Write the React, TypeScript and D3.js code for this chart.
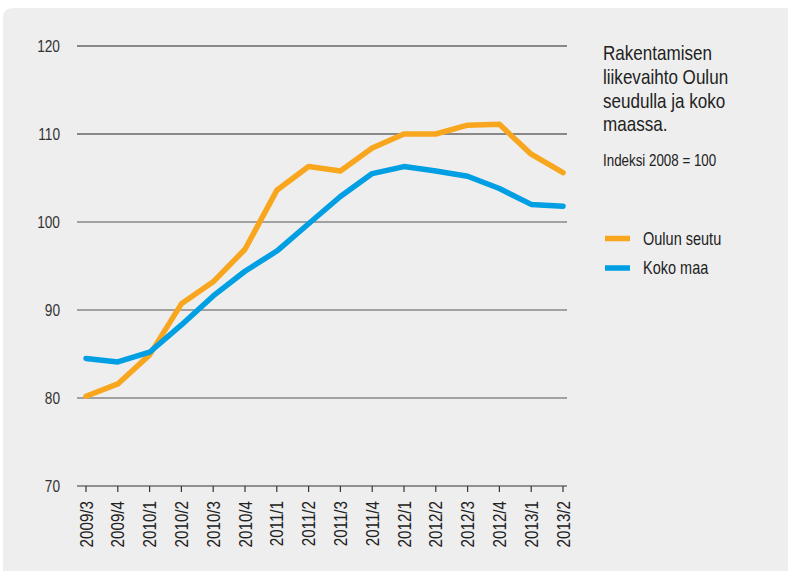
import React from "react";
import * as d3 from "d3";

const categories = ["2009/3","2009/4","2010/1","2010/2","2010/3","2010/4","2011/1","2011/2","2011/3","2011/4","2012/1","2012/2","2012/3","2012/4","2013/1","2013/2"];
const oulunSeutu = [80.2,81.6,84.9,90.7,93.2,96.9,103.6,106.3,105.8,108.4,110.0,110.0,111.0,111.1,107.7,105.6];
const kokoMaa = [84.5,84.1,85.2,88.3,91.6,94.4,96.7,99.8,102.9,105.5,106.3,105.8,105.2,103.8,102.0,101.8];
const yTicks = [70,80,90,100,110,120];
const titleLines = ["Rakentamisen","liikevaihto Oulun","seudulla ja koko","maassa."];
const subtitle = "Indeksi 2008 = 100";
const seriesNames = ["Oulun seutu","Koko maa"];
const colors = ["#f9a61f","#009fe3"];

const FONT = "'Liberation Sans', Arial, sans-serif";
const SX = 0.82;

function NText(props: { x: number; y: number; size: number; anchor?: string; rotate?: number; dy?: string; fill?: string; children: React.ReactNode }) {
  const { x, y, size, anchor = "start", rotate = 0, dy, fill = "#222", children } = props;
  return (
    <text
      transform={`translate(${x},${y}) rotate(${rotate}) scale(${SX},1)`}
      dy={dy}
      textAnchor={anchor}
      fontFamily={FONT}
      fontSize={size}
      fill={fill}
    >
      {children}
    </text>
  );
}

export default function App() {
  const W = 788, H = 571;
  const x = d3.scalePoint<string>().domain(categories).range([86, 563]);
  const y = d3.scaleLinear().domain([70, 120]).range([486, 46]);
  const line = d3.line<number>()
    .x((_, i) => x(categories[i]) as number)
    .y((d) => y(d));
  const series = [oulunSeutu, kokoMaa];
  return (
    <svg width={W} height={H} style={{ position: "absolute", left: 0, top: 0 }}>
      <rect x={0} y={0} width={W} height={H} fill="#ffffff" />
      <path d={`M3,${H} L3,18 Q3,8 13,8 L${W},8 L${W},${H} Z`} fill="#eeeeee" />
      {yTicks.map((t) => (
        <g key={t}>
          {t > 70 && (
            <line x1={77} x2={567} y1={y(t)} y2={y(t)} stroke={t >= 110 ? "#222" : "#555"} strokeWidth={1.2} />
          )}
          <NText x={60} y={y(t)} dy="0.36em" anchor="end" size={16.7} fill="#333">{t}</NText>
        </g>
      ))}
      <line x1={77} x2={567} y1={y(70)} y2={y(70)} stroke="#333" strokeWidth={1.2} />
      {categories.map((c) => (
        <g key={c} transform={`translate(${x(c)},0)`}>
          <line x1={0} x2={0} y1={486} y2={492} stroke="#333" strokeWidth={1.2} />
          <NText x={0} y={501} rotate={-90} dy="0.36em" anchor="end" size={18.5}>{c}</NText>
        </g>
      ))}
      {series.map((s, i) => (
        <path key={i} d={line(s) as string} fill="none" stroke={colors[i]} strokeWidth={5.5} strokeLinejoin="round" strokeLinecap="round" />
      ))}
      {titleLines.map((l, i) => (
        <NText key={l} x={603} y={60 + i * 23.8} size={20.8}>{l}</NText>
      ))}
      <NText x={603} y={166} size={16.3}>{subtitle}</NText>
      {seriesNames.map((n, i) => (
        <g key={n}>
          <line x1={605} x2={630} y1={238.5 + i * 29.5} y2={238.5 + i * 29.5} stroke={colors[i]} strokeWidth={5.5} />
          <NText x={643} y={238.5 + i * 29.5} dy="0.36em" size={17.7}>{n}</NText>
        </g>
      ))}
    </svg>
  );
}
